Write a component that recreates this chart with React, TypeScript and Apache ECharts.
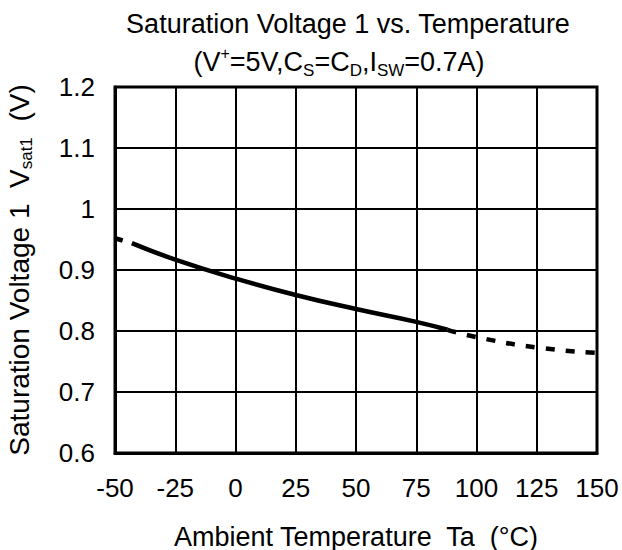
import React, { useEffect, useRef } from "react";
import * as echarts from "echarts";

const xTicks = [-50, -25, 0, 25, 50, 75, 100, 125, 150];
const solidCurve: [number, number][] = [
  [-43, 0.944], [-25, 0.917], [0, 0.886], [25, 0.859], [50, 0.836], [75, 0.815], [88, 0.802],
];
const dashedLeft: [number, number][] = [[-50, 0.952], [-43, 0.944]];
const dashedRight: [number, number][] = [[88, 0.802], [100, 0.79], [125, 0.773], [150, 0.764]];

const FONT = "'Liberation Sans', Arial, sans-serif";

export default function App() {
  const ref = useRef<HTMLDivElement>(null);
  useEffect(() => {
    if (!ref.current) return;
    const chart = echarts.init(ref.current, undefined, { renderer: "svg" });
    chart.setOption({
      animation: false,
      backgroundColor: "#fff",
      textStyle: { fontFamily: FONT, color: "#000" },
      graphic: [
        {
          type: "text",
          x: 348,
          y: 24,
          style: {
            text: "Saturation Voltage 1 vs. Temperature",
            font: `27px ${FONT}`,
            fill: "#000",
            textAlign: "center",
            textVerticalAlign: "middle",
          },
        },
        {
          type: "text",
          x: 339,
          y: 62,
          style: {
            text: "(V{sup|+}=5V,C{sub|S}=C{sub|D},I{sub|SW}=0.7A)",
            font: `27px ${FONT}`,
            fontSize: 27,
            fontFamily: FONT,
            fill: "#000",
            textAlign: "center",
            textVerticalAlign: "middle",
            lineHeight: 34,
            rich: {
              sup: { fontSize: 16, fontFamily: FONT, verticalAlign: "top", lineHeight: 34 },
              sub: { fontSize: 17, fontFamily: FONT, verticalAlign: "bottom", lineHeight: 30 },
            },
          },
        },
      ],
      grid: {
        left: 115,
        top: 87,
        width: 482,
        height: 366,
        containLabel: false,
        outerBoundsMode: "none",
        show: true,
        borderColor: "#000",
        borderWidth: 3,
        backgroundColor: "transparent",
      },
      xAxis: {
        type: "value",
        min: xTicks[0],
        max: xTicks[xTicks.length - 1],
        interval: 25,
        name: "Ambient Temperature  Ta  (°C)",
        nameLocation: "middle",
        nameGap: 70,
        nameTextStyle: { fontSize: 27, fontFamily: FONT, color: "#000" },
        axisLine: { show: true, onZero: false, lineStyle: { color: "#000", width: 3 } },
        axisTick: { show: false },
        axisLabel: { fontSize: 26, fontFamily: FONT, color: "#000", margin: 22 },
        splitLine: { show: true, lineStyle: { color: "#000", width: 2 } },
      },
      yAxis: {
        type: "value",
        min: 0.6,
        max: 1.2,
        interval: 0.1,
        name: "Saturation Voltage 1  V{sub|sat1}  (V)",
        nameLocation: "middle",
        nameGap: 80,
        nameTextStyle: {
          fontSize: 28,
          fontFamily: FONT,
          color: "#000",
          lineHeight: 32,
          rich: { sub: { fontSize: 17, fontFamily: FONT, verticalAlign: "bottom", lineHeight: 28 } },
        },
        axisLine: { show: true, onZero: false, lineStyle: { color: "#000", width: 3 } },
        axisTick: { show: false },
        axisLabel: {
          fontSize: 26,
          fontFamily: FONT,
          color: "#000",
          margin: 20,
          formatter: (v: number) => String(Math.round(v * 10) / 10),
        },
        splitLine: { show: true, lineStyle: { color: "#000", width: 2 } },
      },
      series: [
        {
          type: "line",
          data: solidCurve,
          smooth: true,
          showSymbol: false,
          lineStyle: { color: "#000", width: 4.5 },
        },
        {
          type: "line",
          data: dashedLeft,
          showSymbol: false,
          lineStyle: { color: "#000", width: 4.5, type: [8, 10] },
        },
        {
          type: "line",
          data: dashedRight,
          smooth: true,
          showSymbol: false,
          lineStyle: { color: "#000", width: 4.5, type: [9, 11] },
        },
      ],
    });
    return () => chart.dispose();
  }, []);
  return (
    <div
      ref={ref}
      style={{ position: "fixed", left: 0, top: 0, width: 622, height: 550, background: "#fff" }}
    />
  );
}
